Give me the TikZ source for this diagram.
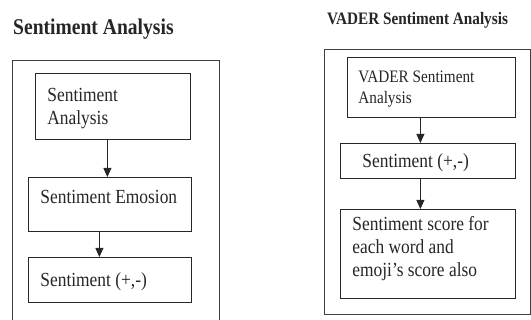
\documentclass[tikz,border=0pt]{standalone}
\usepackage{fontspec}
\setmainfont{Liberation Serif}[FakeStretch=0.87]
\usetikzlibrary{arrows.meta}

\begin{document}
\begin{tikzpicture}[x=1pt,y=-1pt,
    flowbox/.style={draw=black!85, line width=0.8pt, anchor=north west, align=flush left,
      inner xsep=12pt, inner ysep=0pt, text=black!85,
      font=\fontsize{20}{23}\selectfont},
    flowarrow/.style={-{Triangle[length=9pt,width=8pt]}, draw=black!85, line width=0.8pt},
    frame/.style={draw=black!75, line width=1pt}]
  \useasboundingbox (0,0) rectangle (531,320);
  \clip (0,0) rectangle (531,320);

  % Sentiment Analysis
  \node[anchor=base west, font=\fontsize{22.5}{26}\selectfont\bfseries, text=black!85, inner sep=0pt] (ltitle) at (13,35) {Sentiment Analysis};
  \draw[frame] (12.7,60.7) rectangle (219.3,330);
  \node[flowbox, text width=131pt, text height=28pt, text depth=38pt] (sa) at (35,73) {Sentiment\\Analysis};
  \node[flowbox, text width=139pt, text height=26pt, text depth=28pt] (se) at (28,177) {Sentiment Emosion};
  \node[flowbox, text width=139pt, text height=29pt, text depth=16pt] (spol) at (28,257) {Sentiment (+,-)};

  % VADER Sentiment Analysis
  \node[anchor=base west, font=\fontsize{17.5}{21}\selectfont\bfseries, text=black!85, inner sep=0pt] (rtitle) at (327,25) {VADER Sentiment Analysis};
  \draw[frame] (324,49.5) rectangle (530.5,315);
  \node[flowbox, inner xsep=11pt, text width=146pt, text height=25pt, text depth=35pt,
    font=\fontsize{17.5}{21}\selectfont] (va) at (347,57) {VADER Sentiment\\Analysis};
  \node[flowbox, inner xsep=22pt, text width=131pt, text height=24pt, text depth=11pt] (vpol) at (340,143) {Sentiment (+,-)};
  \node[flowbox, text width=151pt, text height=21pt, text depth=68pt] (vscore) at (340,209) {Sentiment score for\\each word and\\emoji's score also};

  % arrows
  \draw[flowarrow] ([xshift=-5.5pt]sa.south) -- ([xshift=-5.5pt]sa.south |- se.north);
  \draw[flowarrow] ([xshift=-10.5pt]se.south) -- ([xshift=-10.5pt]se.south |- spol.north);
  \draw[flowarrow] ([xshift=-11pt]va.south) -- ([xshift=-11pt]va.south |- vpol.north);
  \draw[flowarrow] ([xshift=-7.5pt]vpol.south) -- ([xshift=-7.5pt]vpol.south |- vscore.north);
\end{tikzpicture}
\end{document}
